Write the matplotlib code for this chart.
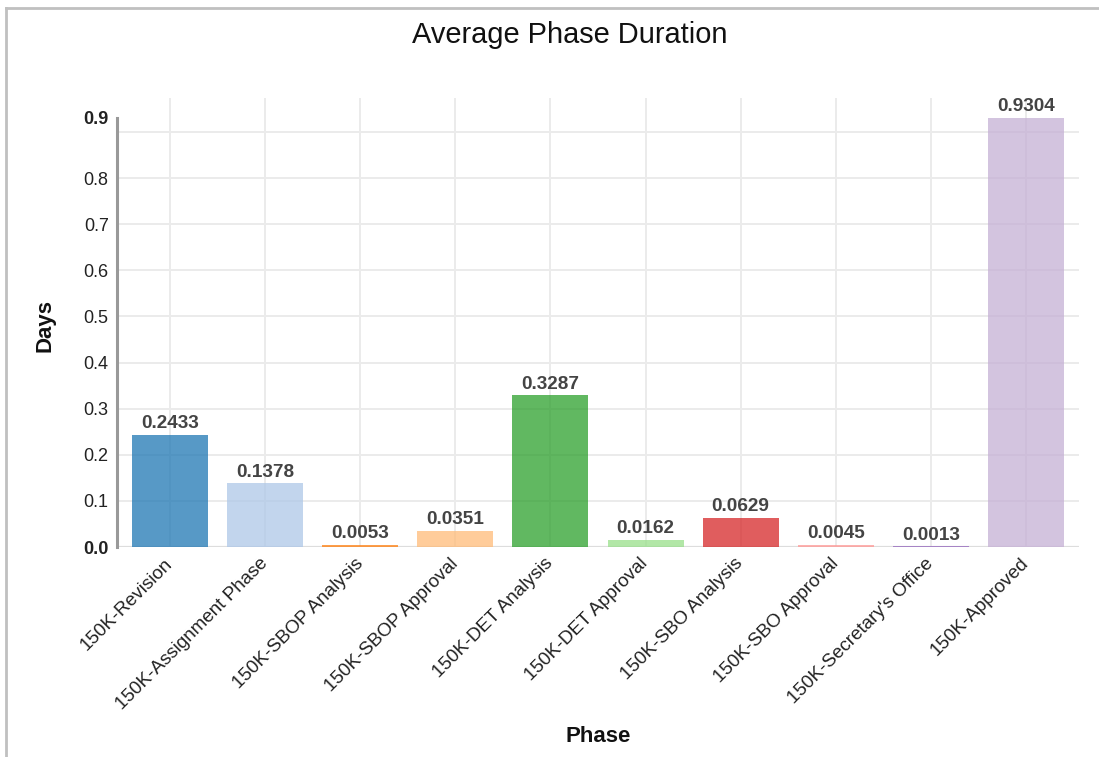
import matplotlib
matplotlib.use("Agg")
from matplotlib import pyplot as plt
from matplotlib.lines import Line2D

plt.rcParams['font.family'] = ['Liberation Sans', 'DejaVu Sans']

phases = ["150K-Revision", "150K-Assignment Phase", "150K-SBOP Analysis",
          "150K-SBOP Approval", "150K-DET Analysis", "150K-DET Approval",
          "150K-SBO Analysis", "150K-SBO Approval", "150K-Secretary's Office",
          "150K-Approved"]
days = [0.2433, 0.1378, 0.0053, 0.0351, 0.3287, 0.0162, 0.0629, 0.0045, 0.0013, 0.9304]
colors = ["#1f77b4", "#aec7e8", "#ff7f0e", "#ffbb78", "#2ca02c",
          "#98df8a", "#d62728", "#ff9896", "#9467bd", "#c5b0d5"]
y_ticks = [0.0, 0.1, 0.2, 0.3, 0.4, 0.5, 0.6, 0.7, 0.8, 0.9]

W, H = 1099, 757
fig = plt.figure(figsize=(W / 100, H / 100), dpi=100)

# plot area in pixel terms
left, right, top, bottom = 117, 1079, 98, 547
ax = fig.add_axes([left / W, 1 - bottom / H, (right - left) / W, (bottom - top) / H])

ymax = max(days)
x = list(range(len(phases)))

ax.set_xlim(-0.56, len(phases) - 1 + 0.56)
ax.set_ylim(0, ymax * (bottom - top) / (bottom - 118))

# grid: vertical at categories, horizontal at ticks
for xi in x:
    ax.axvline(xi, color="#ebebeb", lw=1.4, zorder=0)
for yt in y_ticks[1:]:
    ax.axhline(yt, xmin=0, xmax=1, color="#ebebeb", lw=1.4, zorder=0)
ax.axhline(0, color="#dddddd", lw=1.6, zorder=0)

ax.bar(x, days, width=0.8, color=colors, alpha=0.75, zorder=2)

for xi, v in zip(x, days):
    ax.text(xi, v + 0.006, "%.4f" % v, ha="center", va="bottom",
            fontsize=13.7, fontweight="bold", color="#444444", zorder=3)

for s in ["top", "right", "bottom"]:
    ax.spines[s].set_visible(False)
ax.spines["left"].set_bounds(0, ymax)
ax.spines["left"].set_color("#999999")
ax.spines["left"].set_linewidth(2.2)

# y ticks: the end labels sit at the domain limits
tick_pos = y_ticks[:-1] + [ymax]
tick_lab = ["%.1f" % t for t in y_ticks[:-1]] + ["0.9"]
ax.set_yticks(tick_pos)
ax.set_yticklabels(tick_lab, fontsize=13, color="#222222")
ax.get_yticklabels()[0].set_fontweight("bold")
ax.get_yticklabels()[-1].set_fontweight("bold")
ax.tick_params(axis="y", length=0, pad=6)

ax.set_xticks(x)
ax.set_xticklabels(phases, rotation=45, ha="right", va="center",
                   rotation_mode="anchor", fontsize=13.6, color="#222222")
ax.tick_params(axis="x", length=0, pad=10)

fig.text(570 / W, 1 - 35 / H, "Average Phase Duration", ha="center", va="center",
         fontsize=20.9, color="#111111")
fig.text(598 / W, 1 - 737 / H, "Phase", ha="center", va="center",
         fontsize=16, fontweight="bold", color="#111111")
fig.text(45 / W, 1 - 325 / H, "Days", ha="center", va="center", rotation=90,
         fontsize=16, fontweight="bold", color="#111111")

# frame lines along the left and top edges
fig.add_artist(Line2D([6 / W, 6 / W], [0, 1 - 8 / H], transform=fig.transFigure,
                      color="#c0c0c0", lw=2))
fig.add_artist(Line2D([6 / W, 1], [1 - 8 / H, 1 - 8 / H], transform=fig.transFigure,
                      color="#c0c0c0", lw=2))

fig.savefig("out.png", dpi=100)
